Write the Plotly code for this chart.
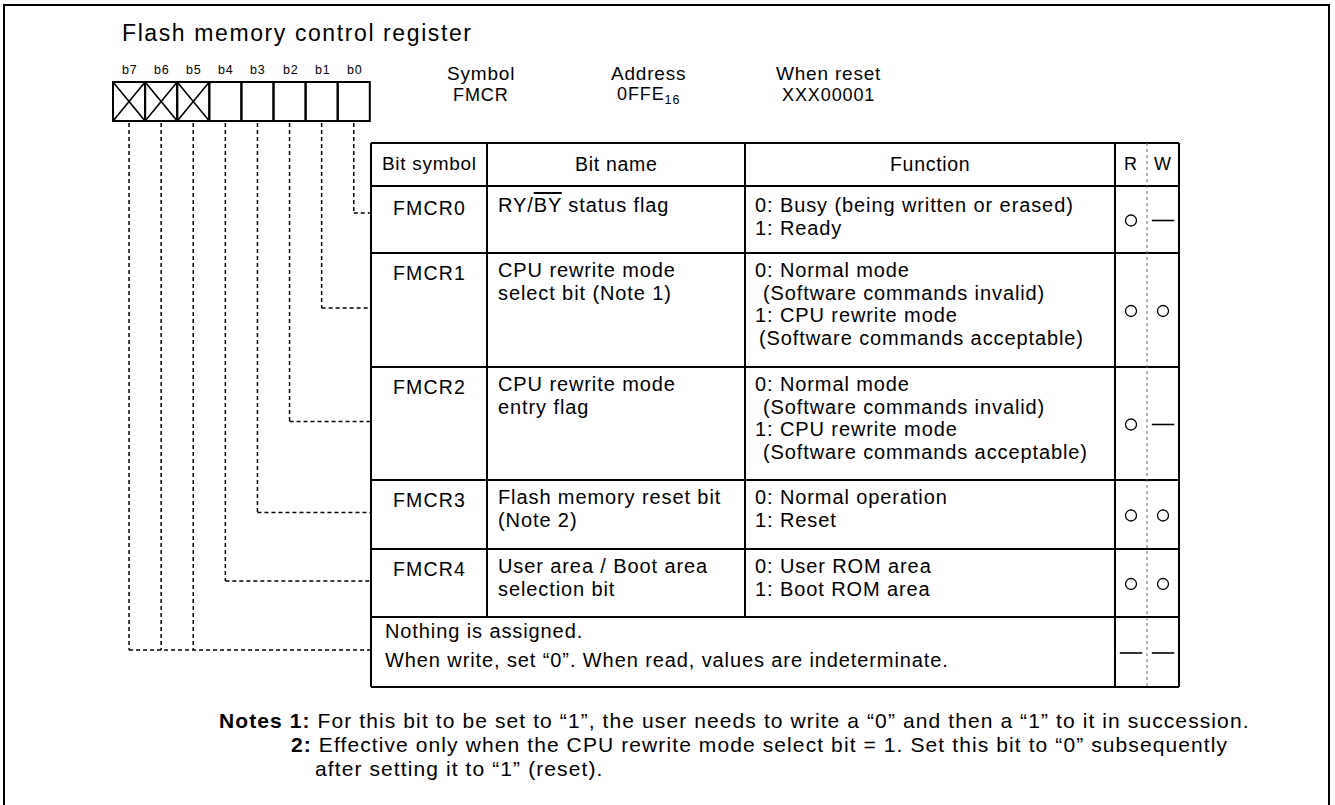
import plotly.graph_objects as go

# ---------------- data ----------------
title_text = "Flash memory control register"
bit_labels = ["b7", "b6", "b5", "b4", "b3", "b2", "b1", "b0"]
reserved_bits = ["b7", "b6", "b5"]
info_heads = ["Symbol", "Address", "When reset"]
info_values = ["FMCR", "0FFE<sub>16</sub>", "XXX00001"]
header_cols = ["Bit symbol", "Bit name", "Function", "R", "W"]
bit_symbols = ["FMCR0", "FMCR1", "FMCR2", "FMCR3", "FMCR4", ""]
bit_names = [
    ["RY/<span style='text-decoration:overline'>BY</span> status flag"],
    ["CPU rewrite mode", "select bit (Note 1)"],
    ["CPU rewrite mode", "entry flag"],
    ["Flash memory reset bit", "(Note 2)"],
    ["User area / Boot area", "selection bit"],
    ["Nothing is assigned.", "When write, set \u201c0\u201d. When read, values are indeterminate."],
]
functions = [
    ["0: Busy (being written or erased)", "1: Ready"],
    ["0: Normal mode", "  (Software commands invalid)", "1: CPU rewrite mode", " (Software commands acceptable)"],
    ["0: Normal mode", "  (Software commands invalid)", "1: CPU rewrite mode", "  (Software commands acceptable)"],
    ["0: Normal operation", "1: Reset"],
    ["0: User ROM area", "1: Boot ROM area"],
    [],
]
read_access = ["o", "o", "o", "o", "o", "-"]
write_access = ["-", "o", "-", "o", "o", "-"]
row_bits = [["b0"], ["b1"], ["b2"], ["b3"], ["b4"], ["b5", "b6", "b7"]]
notes = [
    ("<b>Notes 1:</b> ", "For this bit to be set to \u201c1\u201d, the user needs to write a \u201c0\u201d and then a \u201c1\u201d to it in succession."),
    ("<b>2:</b> ", "Effective only when the CPU rewrite mode select bit = 1. Set this bit to \u201c0\u201d subsequently"),
    ("", "after setting it to \u201c1\u201d (reset)."),
]

# ---------------- layout geometry ----------------
W, H = 1335, 805
FONT = "Liberation Sans, Arial, Helvetica, sans-serif"
BOX_X0, BOX_W, BOX_Y0, BOX_Y1 = 113, 32.1, 82, 121
COLS = [371, 487, 745, 1115, 1147, 1179]
ROWS = [143, 186, 253, 367, 480, 549, 617, 687]
PITCH = 22.5
BODY = 20
BODY_LS = 0.9

shapes = []
ann = []


def line(x0, y0, x1, y1, width=1.5, dash=None, color="black"):
    d = dict(type="line", x0=x0, y0=y0, x1=x1, y1=y1, xref="x", yref="y",
             line=dict(color=color, width=width))
    if dash:
        d["line"]["dash"] = dash
    shapes.append(d)


def text(x, y, s, size=BODY, anchor="left", ls=BODY_LS):
    s = "<span style='letter-spacing:%.2fpx'>%s</span>" % (ls, s)
    ann.append(dict(x=x, y=y, xref="x", yref="y", text=s, showarrow=False,
                    xanchor=anchor, yanchor="middle",
                    font=dict(family=FONT, size=size, color="black")))


# outer frame
shapes.append(dict(type="rect", x0=4, y0=5, x1=1329, y1=812, xref="x", yref="y",
                   line=dict(color="black", width=2)))

# title
text(120, 33, title_text, size=23, ls=1.6)

# register boxes
bit_x = {}
for i, b in enumerate(bit_labels):
    x0 = BOX_X0 + i * BOX_W
    x1 = x0 + BOX_W
    cx = (x0 + x1) / 2
    bit_x[b] = cx
    shapes.append(dict(type="rect", x0=x0, y0=BOX_Y0, x1=x1, y1=BOX_Y1, xref="x", yref="y",
                       line=dict(color="black", width=2)))
    text(cx + 1, 70, b, size=12.5, anchor="center", ls=0.8)
    if b in reserved_bits:
        line(x0, BOX_Y0, x1, BOX_Y1, width=1.6)
        line(x0, BOX_Y1, x1, BOX_Y0, width=1.6)

# register info
info_x = [481, 648, 828]
for hx, h, v in zip(info_x, info_heads, info_values):
    text(hx, 73, h, size=19, anchor="center", ls=0.8)
    text(hx, 95, v, size=18, anchor="center", ls=0.9)

# table header
header_centers = [(COLS[0] + COLS[1]) / 2, (COLS[1] + COLS[2]) / 2, (COLS[2] + COLS[3]) / 2,
                  (COLS[3] + COLS[4]) / 2, (COLS[4] + COLS[5]) / 2]
header_sizes = [19, 19.5, 19.5, 18, 18]
hy = (ROWS[0] + ROWS[1]) / 2 - 1
for cx, h, sz in zip(header_centers, header_cols, header_sizes):
    text(cx, hy, h, size=sz, anchor="center", ls=0.7)

# table grid
TW = 2
line(COLS[0], ROWS[0], COLS[5], ROWS[0], TW)
line(COLS[0], ROWS[-1], COLS[5], ROWS[-1], TW)
for y in ROWS[1:-1]:
    line(COLS[0], y, COLS[5], y, TW)
line(COLS[0], ROWS[0], COLS[0], ROWS[-1], TW)
line(COLS[5], ROWS[0], COLS[5], ROWS[-1], TW)
line(COLS[3], ROWS[0], COLS[3], ROWS[-1], TW)
for c in (COLS[1], COLS[2]):
    line(c, ROWS[0], c, ROWS[-2], TW)
line(COLS[4], ROWS[0], COLS[4], ROWS[-1], 1, dash="3px,3px", color="#666")

# rows
r_x, r_y = [], []
dash_x, dash_y = [], []
rx = (COLS[3] + COLS[4]) / 2
wx = (COLS[4] + COLS[5]) / 2
for i in range(len(bit_symbols)):
    top, bot = ROWS[i + 1], ROWS[i + 2]
    mid = (top + bot) / 2
    first = top + (19 if i == 0 else 17)
    if bit_symbols[i]:
        text((COLS[0] + COLS[1]) / 2, first + 3, bit_symbols[i], size=19.5, anchor="center", ls=1.2)
        for k, s in enumerate(bit_names[i]):
            text(COLS[1] + 9, first + k * PITCH, s)
        for k, s in enumerate(functions[i]):
            ind = (len(s) - len(s.lstrip(" "))) * 4
            text(COLS[2] + 8 + ind, first + k * PITCH, s.lstrip(" "))
    else:
        for k, s in enumerate(bit_names[i]):
            text(COLS[0] + 12, top + 14 + k * 29, s)
    my = mid + 1
    for acc, xx in ((read_access[i], rx), (write_access[i], wx)):
        if acc == "o":
            r_x.append(xx); r_y.append(my)
        else:
            dash_x.append(xx); dash_y.append(my)
    # connectors
    cy = top + 27 if i == 0 else mid - 2
    xs = [bit_x[b] for b in row_bits[i]]
    for xb in xs:
        line(xb, BOX_Y1 + 2, xb, cy, 1.5, dash="4px,3px")
    line(min(xs), cy, COLS[0], cy, 1.5, dash="4px,3px")

# notes
NOTE = 21
text(217, 720, notes[0][0] + notes[0][1], size=NOTE, ls=1.1)
text(289, 744, notes[1][0] + notes[1][1], size=NOTE, ls=1.1)
text(313, 768, notes[2][1], size=NOTE, ls=1.1)

fig = go.Figure()
fig.add_trace(go.Scatter(x=r_x, y=r_y, mode="markers", hoverinfo="skip",
                         marker=dict(symbol="circle-open", size=11, color="black",
                                     line=dict(width=1.3, color="black"))))
fig.add_trace(go.Scatter(x=dash_x, y=dash_y, mode="markers", hoverinfo="skip",
                         marker=dict(symbol="line-ew", size=16, color="black",
                                     line=dict(width=1.6, color="black"))))
fig.update_layout(
    width=W, height=H, margin=dict(l=0, r=0, t=0, b=0),
    paper_bgcolor="white", plot_bgcolor="white", showlegend=False,
    xaxis=dict(range=[0, W], visible=False, fixedrange=True),
    yaxis=dict(range=[H, 0], visible=False, fixedrange=True),
    shapes=shapes, annotations=ann,
)
fig.write_html("out.html", include_plotlyjs=True, config={"displayModeBar": False},
               post_script="document.body.style.margin='0px';document.body.style.overflow='hidden';")
